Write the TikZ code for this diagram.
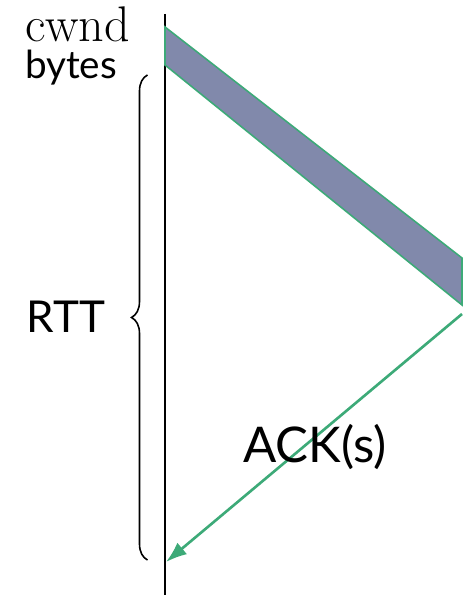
\documentclass[tikz,border=0pt]{standalone}
\usepackage{fontspec}
\newfontfamily\labelfont{Lato}
\usetikzlibrary{arrows.meta,positioning,decorations.pathreplacing}
\definecolor{bandfill}{HTML}{8189AB}
\definecolor{ackgreen}{HTML}{3DAA78}
\begin{document}
\begin{tikzpicture}[
  lbl/.style={inner sep=0pt,anchor=base},
  arr/.style={-{Latex[length=0.42cm,width=0.3cm]},ackgreen,line width=1.5pt},
  band/.style={draw=ackgreen,line width=0.9pt,fill=bandfill}]
\useasboundingbox (0,0) rectangle (9.24,11.9);
% time axis of the sender
\coordinate (top) at (3.3,11.62);
\coordinate (bot) at (3.3,0);
\draw[line width=0.9pt] (top) -- (bot);
% window of data on its way
\coordinate (w1) at (3.3,11.36);
\coordinate (w2) at (3.3,10.6);
\coordinate (w3) at (9.24,5.8);
\coordinate (w4) at (9.24,6.74);
\draw[band] (w1) -- (w2) -- (w3) -- (w4) -- cycle;
% returning acks
\coordinate (ackstart) at (9.24,5.62);
\coordinate (ackend) at (3.32,0.66);
\draw[arr] (ackstart) -- (ackend);
% round trip brace
\coordinate (bra) at (2.95,0.7);
\coordinate (brb) at (2.95,10.4);
\draw[line width=0.9pt,decorate,decoration={brace,amplitude=0.32cm}] (bra) -- (brb);
\node[lbl,font=\fontsize{28.5}{30}\selectfont] (cwnd) at (1.55,11.06) {cwnd};
\node[lbl,font=\labelfont\fontsize{22}{25}\selectfont] (bytes) at (1.42,10.32) {bytes};
\node[lbl,font=\labelfont\fontsize{25}{28}\selectfont] (rtt) at (1.32,5.24) {RTT};
\node[lbl,font=\labelfont\fontsize{28}{30}\selectfont] (ack) at (6.3,2.64) {ACK(s)};
\end{tikzpicture}
\end{document}
